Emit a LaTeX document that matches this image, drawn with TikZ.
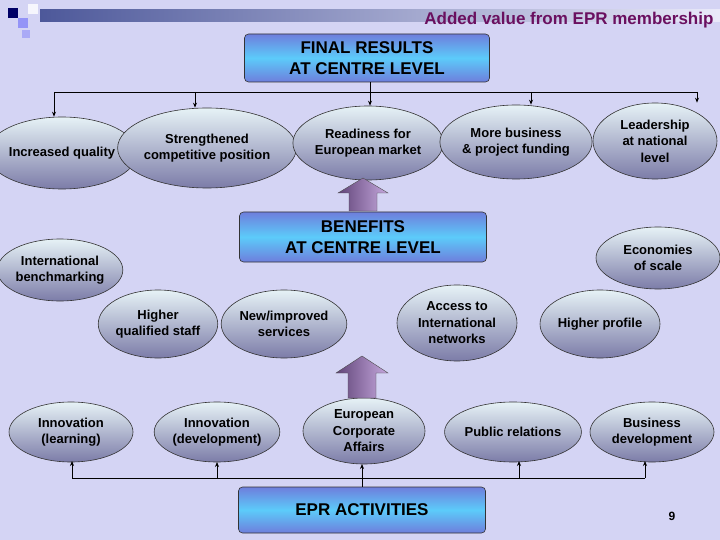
\documentclass[tikz,border=0pt]{standalone}
\usepackage{fontspec}
\setmainfont{Liberation Sans}
\usetikzlibrary{shapes.geometric,arrows.meta}
\definecolor{bg}{HTML}{D4D4F4}
\definecolor{ellbot}{HTML}{7C7CA8}
\definecolor{elltop}{HTML}{E6F2F6}
\definecolor{boxa}{HTML}{6E7EDC}
\definecolor{boxb}{HTML}{5CCBFA}
\definecolor{purp}{HTML}{A070C8}
\definecolor{ttl}{HTML}{6A1060}
\begin{document}
\begin{tikzpicture}[x=1pt,y=-1pt,
  ell/.style={ellipse,draw=black!80,line width=0.6pt,top color=elltop,bottom color=ellbot,inner sep=0pt,align=center,font=\bfseries\fontsize{13}{16.5}\selectfont},
  box/.style={rectangle,rounded corners=4pt,draw=black!80,line width=0.6pt,top color=boxa,bottom color=boxa,middle color=boxb,align=center,font=\bfseries\fontsize{17}{21}\selectfont,inner sep=0pt},
  conn/.style={line width=0.8pt,-{Stealth[length=5pt,width=4pt]}},
  big/.style={draw=black!70,left color=purp!60!black,right color=purp!60!white}]
\useasboundingbox (0,0) rectangle (720,540);
\fill[bg] (0,0) rectangle (720,540);
% header
\shade[left color=boxa!70!black,right color=bg!50!white] (40,10) rectangle (720,22);
\fill[blue!40!black] (8,8) rectangle (18,18);
\fill[bg!70!blue] (18,18) rectangle (28,28);
\fill[white!80!bg] (28,4) rectangle (38,14);
\fill[bg!80!blue] (22,30) rectangle (30,38);
\node[anchor=east,text=ttl,font=\bfseries\fontsize{17}{20}\selectfont] (title) at (717,20) {Added value from EPR membership};
% boxes
\node[box,minimum width=245pt,minimum height=48pt] (final) at (367,58) {FINAL RESULTS\\AT CENTRE LEVEL};
\node[box,minimum width=247pt,minimum height=50pt] (ben) at (363,237) {BENEFITS\\AT CENTRE LEVEL};
\node[box,minimum width=247pt,minimum height=46pt] (epr) at (362,510) {EPR ACTIVITIES};
% top ellipses
\node[ell,minimum width=120pt,minimum height=72pt] (r1) at (62,153) {Increased quality};
\node[ell,minimum width=146pt,minimum height=80pt] (r2) at (207,148) {Strengthened\\competitive position};
\node[ell,minimum width=128pt,minimum height=74pt] (r3) at (368,143) {Readiness for\\European market};
\node[ell,minimum width=122pt,minimum height=74pt] (r4) at (516,142) {More business\\\& project funding};
\node[ell,minimum width=124pt,minimum height=76pt] (r5) at (655,141) {Leadership\\at national\\level};
% benefits
\node[ell,minimum width=120pt,minimum height=62pt] (b1) at (60,270) {International\\benchmarking};
\node[ell,minimum width=124pt,minimum height=62pt] (b2) at (658,258) {Economies\\of scale};
\node[ell,minimum width=116pt,minimum height=68pt] (b3) at (158,324) {Higher\\qualified staff};
\node[ell,minimum width=120pt,minimum height=68pt] (b4) at (284,324) {New/improved\\services};
\node[ell,minimum width=120pt,minimum height=76pt] (b5) at (457,323) {Access to\\International\\networks};
\node[ell,minimum width=120pt,minimum height=68pt] (b6) at (600,324) {Higher profile};
% activities
\node[ell,minimum width=124pt,minimum height=60pt] (a1) at (71,432) {Innovation\\(learning)};
\node[ell,minimum width=120pt,minimum height=60pt] (a2) at (217,432) {Innovation\\(development)};
\node[ell,minimum width=122pt,minimum height=66pt] (a3) at (364,431) {European\\Corporate\\Affairs};
\node[ell,minimum width=120pt,minimum height=60pt] (a4) at (513,432) {Public relations};
\node[ell,minimum width=124pt,minimum height=60pt] (a5) at (652,432) {Business\\development};
% big arrows
\path[big] (349,211) -- (349,193) -- (338,193) -- (363,178) -- (388,193) -- (377,193) -- (377,211) -- cycle;
\path[big] (348,398) -- (348,373) -- (336,373) -- (362,356) -- (388,373) -- (376,373) -- (376,398) -- cycle;
% top connectors
\coordinate (t0) at (370,92);
\draw[line width=0.8pt] (final.south -| t0) -- (t0);
\draw[line width=0.8pt] (54,92) -- (697,92);
\coordinate (j1) at (54,92); \coordinate (j2) at (195,92); \coordinate (j4) at (531,92); \coordinate (j5) at (697,92);
\draw[conn] (j1) -- (j1 |- r1.north);
\draw[conn] (j2) -- (j2 |- r2.north);
\draw[conn] (t0) -- (t0 |- r3.north);
\draw[conn] (j4) -- (j4 |- r4.north);
\draw[conn] (j5) -- (j5 |- r5.north);
% bottom connectors
\coordinate (e0) at (362,478);
\draw[line width=0.8pt] (72,478) -- (645,478);
\draw[line width=0.8pt] (epr.north -| e0) -- (e0);
\draw[conn] (72,478) -- (72,461);
\draw[conn] (217,478) -- (217,462);
\draw[conn] (e0) -- (362,464);
\draw[conn] (519,478) -- (519,461);
\draw[conn] (645,478) -- (645,461);
\node[font=\bfseries\fontsize{12}{14}\selectfont] (pg) at (672,516) {9};
\end{tikzpicture}
\end{document}
